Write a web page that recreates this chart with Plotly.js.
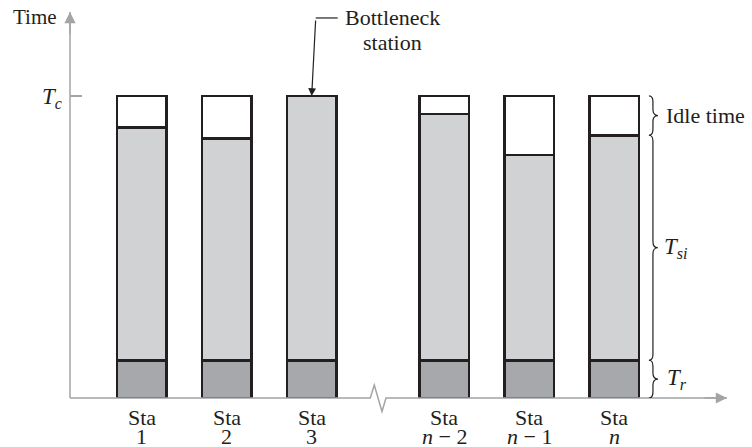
<!DOCTYPE html>
<html>
<head>
<meta charset="utf-8">
<script src="https://cdn.plot.ly/plotly-3.0.1.min.js"></script>
<style>html,body{margin:0;padding:0;background:#fff;}#chart{width:752px;height:447px;}</style>
</head>
<body>
<div id="chart"></div>
<script>
// ---- data ----
const stationNumbers = ['1', '2', '3', '<i>n</i> − 2', '<i>n</i> − 1', '<i>n</i>'];
const stationWord = 'Sta';
const trValues   = [1.25, 1.25, 1.25, 1.25, 1.25, 1.25];
const tsiValues  = [7.7, 7.35, 8.75, 8.15, 6.8, 7.45];
const idleValues = [1.05, 1.4, 0, 0.6, 1.95, 1.3];
const tcValue = 10;
const bottleneckIndex = 2;

// ---- layout helpers ----
const gapAfter = 3, gapExtra = 0.56;
const xpos = stationNumbers.map((s, i) => i + 1 + (i >= gapAfter ? gapExtra : 0));
const xr = [0.1565, 7.886];
const yr = [0, 12.78];
const M = {l: 70, r: 25, t: 12, b: 49};
const plotW = 752 - M.l - M.r, plotH = 447 - M.t - M.b;
const uxPx = (xr[1] - xr[0]) / plotW;   // data units per pixel
const uyPx = (yr[1] - yr[0]) / plotH;
const xPaper = v => (v - xr[0]) / (xr[1] - xr[0]);

const ink = '#231f20', axisGray = '#a3a4a6';
const serif = 'Liberation Serif, Times New Roman, serif';
const barW = 0.58;

function barTrace(vals, color) {
  return {
    type: 'bar', x: xpos, y: vals, width: barW,
    marker: {color: color, line: {color: ink, width: 2.6}},
    hoverinfo: 'skip', showlegend: false
  };
}
const data = [
  barTrace(trValues, '#a7a8ab'),
  barTrace(tsiValues, '#d1d2d4'),
  barTrace(idleValues, '#ffffff')
];

// curly brace path in data coords
function brace(xc, y0, y1) {
  const xb = xc, xm = xc + 4 * uxPx, xt = xc + 9 * uxPx;
  const d = 6 * uyPx, ym = (y0 + y1) / 2;
  return `M ${xb},${y1} Q ${xm},${y1} ${xm},${y1 - d} L ${xm},${ym + d} Q ${xm},${ym} ${xt},${ym} ` +
         `Q ${xm},${ym} ${xm},${ym - d} L ${xm},${y0 + d} Q ${xm},${y0} ${xb},${y0}`;
}
const last = xpos.length - 1;
const braceX = xpos[last] + barW / 2 + 10 * uxPx;
const topN = trValues[last] + tsiValues[last];
const braces = [
  [0, trValues[last]], [trValues[last], topN], [topN, tcValue]
].map(([a, b]) => ({type: 'path', xref: 'x', yref: 'y', path: brace(braceX, a, b),
  line: {color: ink, width: 1.2}}));

// x-axis with break
const brk = xPaper((xpos[gapAfter - 1] + xpos[gapAfter]) / 2);
const pxX = 1 / plotW, pxY = 1 / plotH;
const axisShapes = [
  {type: 'line', xref: 'paper', yref: 'paper', x0: 0, x1: 0, y0: 0, y1: 1, line: {color: axisGray, width: 1.5}},
  {type: 'path', xref: 'paper', yref: 'paper',
   path: `M 0,0 L ${brk - 7.7 * pxX},0 L ${brk - 3.7 * pxX},${13 * pxY} L ${brk + 4 * pxX},${-13.5 * pxY} L ${brk + 8 * pxX},0 L 1,0`,
   line: {color: axisGray, width: 1.5}},
  // bottleneck leader (horizontal part)
  {type: 'line', xref: 'x', yref: 'y',
   x0: xpos[bottleneckIndex] + 4 * uxPx, x1: xpos[bottleneckIndex] + 26 * uxPx,
   y0: tcValue + 78 * uyPx, y1: tcValue + 78 * uyPx, line: {color: ink, width: 1.2}}
];

const txt = (size) => ({family: serif, size: size, color: ink});
const annotations = [
  // axis arrowheads
  {xref: 'paper', yref: 'paper', x: 0, y: 1, ax: 0, ay: 24, text: '', showarrow: true,
   arrowhead: 2, arrowsize: 1.6, arrowwidth: 1.4, arrowcolor: axisGray},
  {xref: 'paper', yref: 'paper', x: 1, y: 0, ax: -24, ay: 0, text: '', showarrow: true,
   arrowhead: 2, arrowsize: 1.6, arrowwidth: 1.4, arrowcolor: axisGray},
  // axis title
  {xref: 'paper', yref: 'paper', x: 0, y: 1, xanchor: 'right', yanchor: 'middle',
   xshift: -11, yshift: -5, text: 'Time', showarrow: false, font: txt(21)},
  // Tc label
  {xref: 'paper', yref: 'y', x: 0, y: tcValue, xanchor: 'right', yanchor: 'middle',
   xshift: -6, yshift: -2, text: '<i>T</i><sub><i>c</i></sub>', showarrow: false, font: txt(23)},
  // bottleneck
  {xref: 'x', yref: 'y', x: xpos[bottleneckIndex], y: tcValue, ax: 4, ay: -77, text: '',
   showarrow: true, arrowhead: 2, arrowsize: 1.3, arrowwidth: 1.2, arrowcolor: ink},
  {xref: 'x', yref: 'y', x: xpos[bottleneckIndex], y: tcValue, xshift: 81, yshift: 78,
   text: 'Bottleneck', showarrow: false, font: txt(22), yanchor: 'middle'},
  {xref: 'x', yref: 'y', x: xpos[bottleneckIndex], y: tcValue, xshift: 81, yshift: 53,
   text: 'station', showarrow: false, font: txt(22), yanchor: 'middle'},
  // brace labels
  {xref: 'x', yref: 'y', x: braceX, y: (topN + tcValue) / 2, xanchor: 'left', xshift: 15,
   text: 'Idle time', showarrow: false, font: txt(22)},
  {xref: 'x', yref: 'y', x: braceX, y: (trValues[last] + topN) / 2, xanchor: 'left', xshift: 13,
   text: '<i>T</i><sub><i>si</i></sub>', showarrow: false, font: txt(23)},
  {xref: 'x', yref: 'y', x: braceX, y: trValues[last] / 2, xanchor: 'left', xshift: 16,
   text: '<i>T</i><sub><i>r</i></sub>', showarrow: false, font: txt(23)}
];
// station labels (two lines)
xpos.forEach((x, i) => {
  annotations.push({xref: 'x', yref: 'paper', x: x, y: 0, yshift: -19, yanchor: 'middle',
    height: 18, text: stationWord, showarrow: false, font: txt(22)});
  annotations.push({xref: 'x', yref: 'paper', x: x, y: 0, yshift: -38, yanchor: 'middle',
    height: 18, text: stationNumbers[i], showarrow: false, font: txt(22)});
});

const layout = {
  width: 752, height: 447, margin: M,
  paper_bgcolor: '#fff', plot_bgcolor: '#fff',
  barmode: 'stack', showlegend: false,
  xaxis: {range: xr, showgrid: false, zeroline: false, showline: false,
          showticklabels: false, ticks: ''},
  yaxis: {range: yr, showgrid: false, zeroline: false, showline: false,
          tickvals: [tcValue], showticklabels: false,
          ticks: 'inside', ticklen: 12, tickwidth: 1.5, tickcolor: axisGray},
  shapes: axisShapes.concat(braces),
  annotations: annotations
};
Plotly.newPlot('chart', data, layout, {displayModeBar: false, staticPlot: true});
</script>
</body>
</html>
